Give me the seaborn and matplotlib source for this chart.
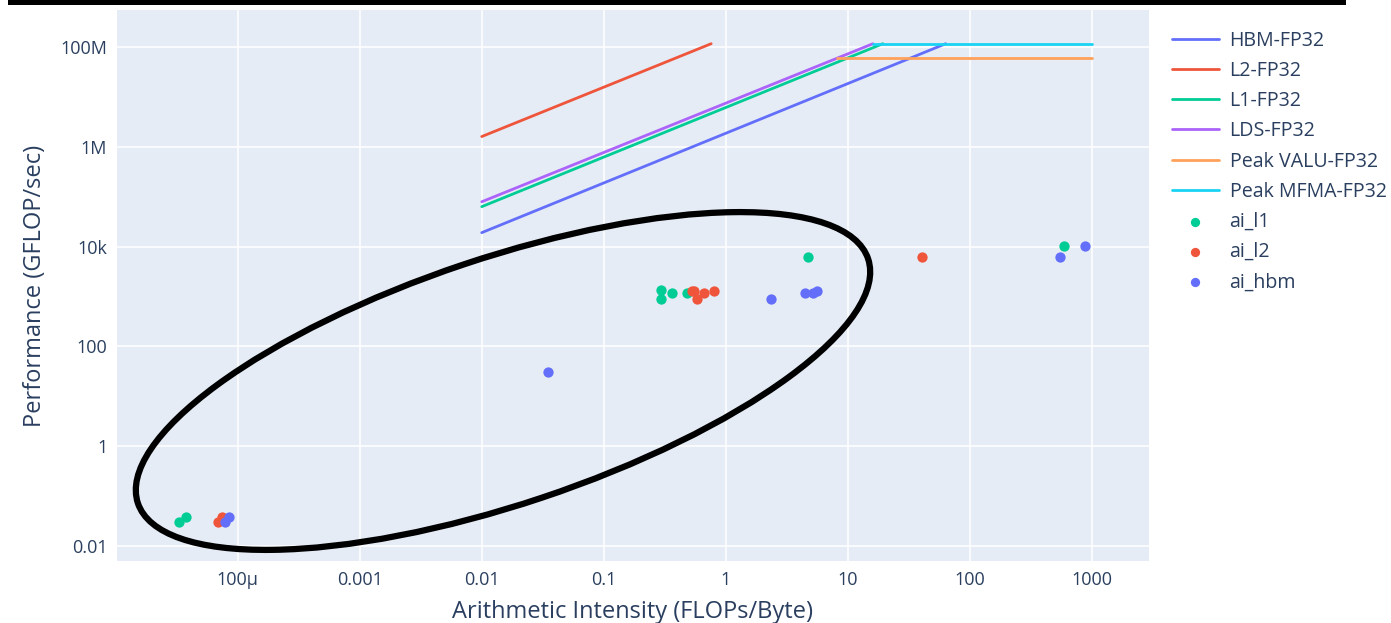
import numpy as np
import pandas as pd
import seaborn as sns
import matplotlib
matplotlib.use("Agg")
import matplotlib.pyplot as plt
from matplotlib.patches import Ellipse, Rectangle

# ---------------- data ----------------
# roofline segments: [start, end]
hbm_x = [0.01, 63.6]
hbm_y = [1.9e4, 1.16e8]
l2_x = [0.01, 0.76]
l2_y = [1.6e6, 1.16e8]
l1_x = [0.01, 19.4]
l1_y = [6.3e4, 1.16e8]
lds_x = [0.01, 16.1]
lds_y = [7.9e4, 1.16e8]
valu_x = [8.2, 1000]
valu_y = [5.9e7, 5.9e7]
mfma_x = [16.1, 1000]
mfma_y = [1.16e8, 1.16e8]

ai_l1_x = [3.3e-5, 3.75e-5, 0.293, 0.293, 0.36, 0.48, 4.7, 590]
ai_l1_y = [0.030, 0.038, 1318, 871, 1200, 1200, 6300, 10500]
ai_l2_x = [6.9e-5, 7.4e-5, 0.53, 0.55, 0.58, 0.67, 0.80, 41]
ai_l2_y = [0.031, 0.038, 1260, 1260, 870, 1150, 1260, 6300]
ai_hbm_x = [7.9e-5, 8.5e-5, 0.035, 2.34, 4.5, 5.2, 5.6, 550, 890]
ai_hbm_y = [0.031, 0.038, 30, 870, 1150, 1200, 1260, 6300, 10500]

x_ticks = [1e-4, 1e-3, 1e-2, 1e-1, 1, 10, 100, 1000]
x_tick_labels = ["100μ", "0.001", "0.01", "0.1", "1", "10", "100", "1000"]
y_ticks = [1e-2, 1, 1e2, 1e4, 1e6, 1e8]
y_tick_labels = ["0.01", "1", "100", "10k", "1M", "100M"]

line_names = ["HBM-FP32", "L2-FP32", "L1-FP32", "LDS-FP32", "Peak VALU-FP32", "Peak MFMA-FP32"]
line_colors = ["#636efa", "#EF553B", "#00cc96", "#ab63fa", "#FFA15A", "#19d3f3"]
point_names = ["ai_l1", "ai_l2", "ai_hbm"]
point_colors = ["#00cc96", "#EF553B", "#636efa"]

# ---------------- style ----------------
sns.set_theme(style="darkgrid")
plt.rcParams.update({
    "axes.facecolor": "#E5ECF6",
    "grid.color": "white",
    "grid.linewidth": 1.1,
    "text.color": "#2a3f5f",
    "axes.labelcolor": "#2a3f5f",
    "xtick.color": "#2a3f5f",
    "ytick.color": "#2a3f5f",
})
plt.rcParams["font.family"] = ["Open Sans", "DejaVu Sans"]

W, H = 1391, 623
fig = plt.figure(figsize=(W / 100, H / 100), dpi=100)
ax = fig.add_axes([117 / W, 1 - 561 / H, (1149 - 117) / W, (561 - 10) / H])

line_sets = [(hbm_x, hbm_y), (l2_x, l2_y), (l1_x, l1_y), (lds_x, lds_y),
             (valu_x, valu_y), (mfma_x, mfma_y)]
for (xs, ys), name, col in zip(line_sets, line_names, line_colors):
    df = pd.DataFrame({"x": xs, "y": ys})
    sns.lineplot(data=df, x="x", y="y", color=col, linewidth=2.0,
                 label=name, ax=ax, sort=False)

point_sets = [(ai_l1_x, ai_l1_y), (ai_l2_x, ai_l2_y), (ai_hbm_x, ai_hbm_y)]
for (xs, ys), name, col in zip(point_sets, point_names, point_colors):
    df = pd.DataFrame({"x": xs, "y": ys})
    sns.scatterplot(data=df, x="x", y="y", color=col, s=55, linewidth=0,
                    label=name, ax=ax, zorder=3)

ax.set_xscale("log")
ax.set_yscale("log")
ax.set_xlim(10 ** -4.99, 10 ** 3.47)
ax.set_ylim(10 ** -2.30, 10 ** 8.74)
ax.set_xticks(x_ticks)
ax.set_xticklabels(x_tick_labels)
ax.set_yticks(y_ticks)
ax.set_yticklabels(y_tick_labels)
ax.minorticks_off()
ax.tick_params(axis="both", length=0, labelsize=13, pad=7)
for s in ax.spines.values():
    s.set_visible(False)
ax.grid(True, which="major", color="white", linewidth=1.1)

ax.set_xlabel("Arithmetic Intensity (FLOPs/Byte)", fontsize=17, labelpad=8)
ax.set_ylabel("Performance (GFLOP/sec)", fontsize=17, labelpad=10)

ax.get_legend().remove()
handles, labels = ax.get_legend_handles_labels()
leg = fig.legend(handles, labels, loc="upper left",
                 bbox_to_anchor=(1162 / W, 1 - 21 / H),
                 frameon=False, fontsize=14.1, handlelength=2.4,
                 handletextpad=0.55, labelspacing=0.52, borderpad=0,
                 markerscale=0.9)
for t in leg.get_texts():
    t.set_color("#2a3f5f")

# annotation ellipse and top bar (figure pixel space)
ell = Ellipse((503 / 100, (H - 381) / 100), 7.70, 2.46, angle=18.5,
              transform=fig.dpi_scale_trans, fill=False,
              edgecolor="black", linewidth=4.5, zorder=10)
fig.add_artist(ell)
fig.add_artist(Rectangle((8 / W, 1 - 4.5 / H), (1346 - 8) / W, 4.5 / H,
                         transform=fig.transFigure, facecolor="black",
                         edgecolor="none", zorder=10))

fig.savefig("out.png", dpi=100, facecolor="white")
